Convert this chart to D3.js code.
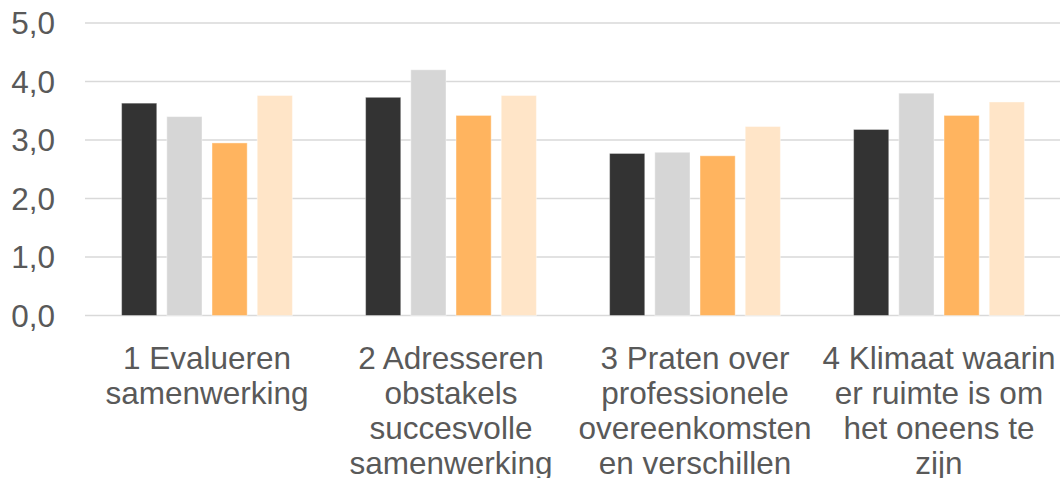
<!DOCTYPE html>
<html>
<head>
<meta charset="utf-8">
<script src="https://cdn.jsdelivr.net/npm/d3@7"></script>
<style>
  body { margin: 0; background: #fff; }
  svg { display: block; font-family: "Liberation Sans", Arial, sans-serif; }
</style>
</head>
<body>
<svg id="chart"></svg>
<script>
// categories and wrapped tick labels
const categories = ["1", "2", "3", "4"];
const tickLabels = [
  ["1 Evalueren", "samenwerking"],
  ["2 Adresseren", "obstakels", "succesvolle", "samenwerking"],
  ["3 Praten over", "professionele", "overeenkomsten", "en verschillen"],
  ["4 Klimaat waarin", "er ruimte is om", "het oneens te", "zijn"]
];
const seriesNames = ["s1", "s2", "s3", "s4"];
const s1 = [3.63, 3.73, 2.77, 3.18];
const s2 = [3.40, 4.20, 2.79, 3.80];
const s3 = [2.95, 3.42, 2.73, 3.42];
const s4 = [3.76, 3.76, 3.23, 3.65];
const yTicks = [0, 1, 2, 3, 4, 5];

const colors = ["#333333", "#d6d6d6", "#ffb45f", "#ffe5c8"];

const width = 1060, height = 478;
const margin = { top: 23, right: -1, bottom: 162.5, left: 85 };

const svg = d3.select("#chart").attr("width", width).attr("height", height);

const allSeries = [s1, s2, s3, s4];
const table = categories.map((c, i) => ({ cat: c, vals: allSeries.map((s, j) => ({ key: seriesNames[j], v: s[i] })) }));

// scales
const x0 = d3.scaleBand().domain(categories)
  .range([margin.left, width - margin.right]).paddingInner(0.3).paddingOuter(0.15);
const x1 = d3.scaleBand().domain(seriesNames).range([0, x0.bandwidth()]).paddingInner(0.222);
const y = d3.scaleLinear().domain([0, 5]).range([height - margin.bottom, margin.top]);
const color = d3.scaleOrdinal().domain(seriesNames).range(colors);

// gridlines
svg.append("g").selectAll("line").data(yTicks).join("line")
  .attr("x1", margin.left).attr("x2", width - margin.right)
  .attr("y1", d => y(d)).attr("y2", d => y(d))
  .attr("stroke", "#d9d9d9").attr("stroke-width", 1.5);

// y labels
svg.append("g").selectAll("text").data(yTicks).join("text")
  .attr("x", 55).attr("y", d => y(d)).attr("dy", "0.36em")
  .attr("text-anchor", "end").attr("fill", "#595959").style("font-size", "31.5px")
  .text(d => d3.format(".1f")(d).replace(".", ","));

// bars
svg.append("g").selectAll("g").data(table).join("g")
  .attr("transform", d => `translate(${x0(d.cat)},0)`)
  .selectAll("rect").data(d => d.vals).join("rect")
  .attr("x", d => x1(d.key)).attr("width", x1.bandwidth())
  .attr("y", d => y(d.v)).attr("height", d => y(0) - y(d.v))
  .attr("fill", d => color(d.key))
  .attr("stroke", "#fff").attr("stroke-opacity", 0.4).attr("stroke-width", 1);

// x labels, wrapped
const xl = svg.append("g").selectAll("text").data(categories).join("text")
  .attr("x", d => x0(d) + x0.bandwidth() / 2).attr("y", 369)
  .attr("text-anchor", "middle").attr("fill", "#595959").style("font-size", "31.5px");
xl.selectAll("tspan").data((d, i) => tickLabels[i]).join("tspan")
  .attr("x", function () { return this.parentNode.getAttribute("x"); })
  .attr("dy", (d, i) => i === 0 ? 0 : 35)
  .text(d => d);

// keep labels inside the right edge
xl.each(function () {
  const b = this.getBBox();
  const over = b.x + b.width - (width - 4);
  if (over > 0) {
    const nx = +this.getAttribute("x") - over;
    d3.select(this).attr("x", nx).selectAll("tspan").attr("x", nx);
  }
});
</script>
</body>
</html>
